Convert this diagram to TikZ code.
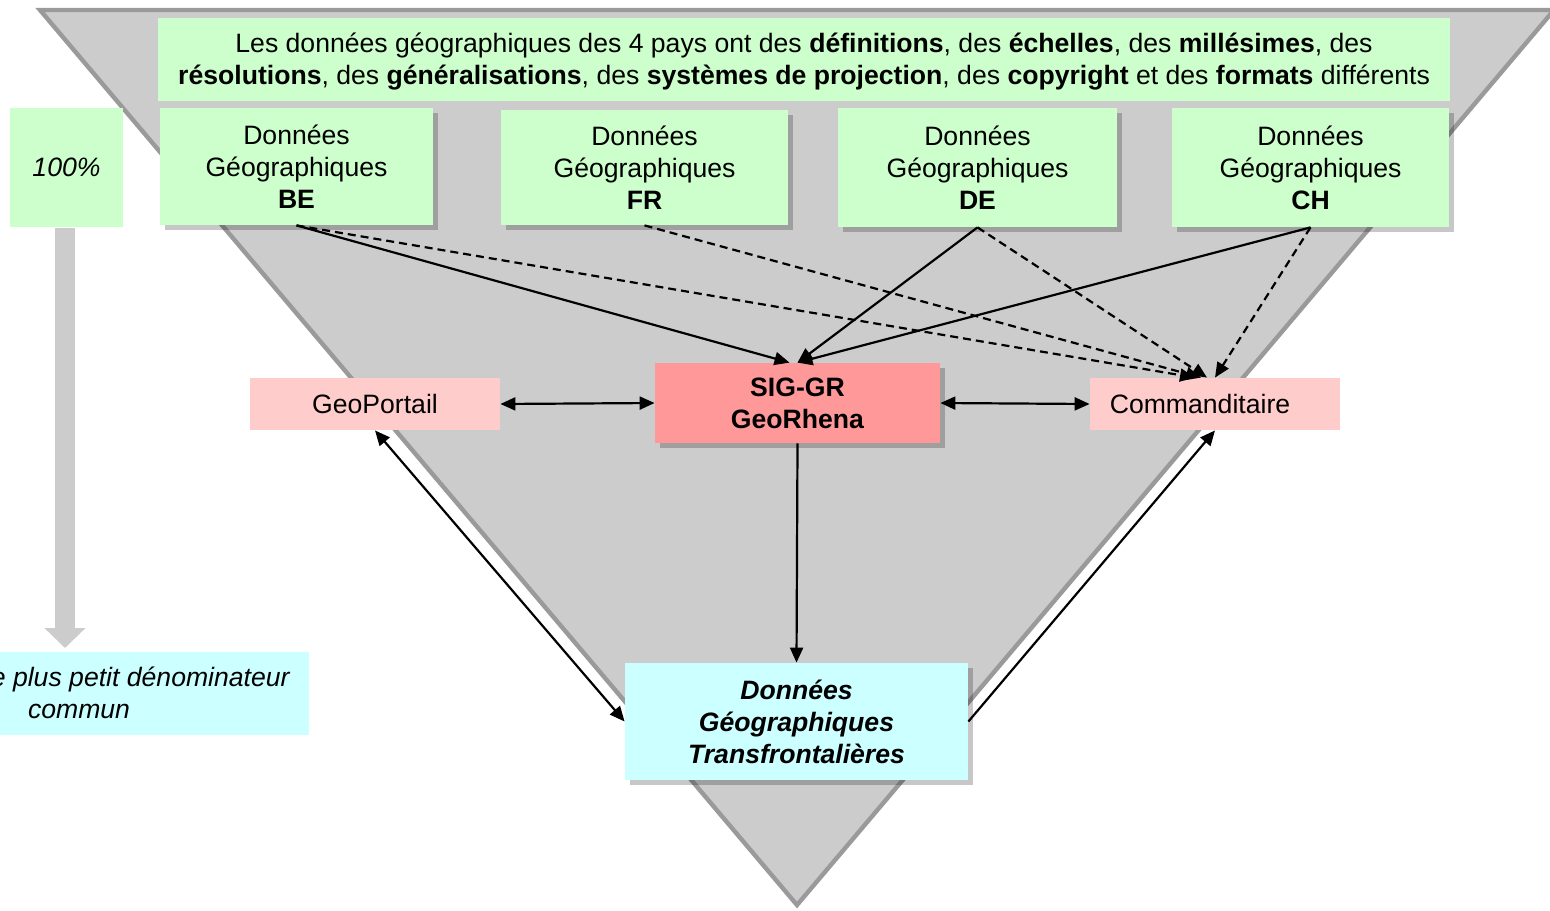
\documentclass[tikz,border=0pt]{standalone}
\usepackage{fontspec}
\setmainfont{Liberation Sans}
\usetikzlibrary{arrows.meta,shadows}
\definecolor{trifill}{HTML}{CCCCCC}
\definecolor{triedge}{HTML}{9A9A9A}
\definecolor{greenbox}{HTML}{CCFFCC}
\definecolor{pinkbox}{HTML}{FFCCCC}
\definecolor{redbox}{HTML}{FF9999}
\definecolor{cyanbox}{HTML}{CCFFFF}
\definecolor{bigarrow}{HTML}{CCCCCC}
\begin{document}
\begin{tikzpicture}[x=0.5pt,y=-0.5pt,
  every node/.style={font=\fontsize{13.3pt}{16pt}\selectfont, inner sep=0pt, align=center},
  shad/.style={drop shadow={shadow xshift=2.5pt, shadow yshift=-2.5pt, fill=black, opacity=0.22}},
  greenb/.style={fill=greenbox},
  pinkb/.style={fill=pinkbox},
  redb/.style={fill=redbox},
  cyanb/.style={fill=cyanbox},
  conn/.style={line width=1.1pt, -{Triangle[length=7.5pt,width=6.5pt]}},
  bconn/.style={line width=1.1pt, {Triangle[length=7.5pt,width=6.5pt]}-{Triangle[length=7.5pt,width=6.5pt]}},
  dconn/.style={line width=1.1pt, dash pattern=on 4pt off 2.5pt, -{Triangle[length=7.5pt,width=6.5pt]}},
]
\useasboundingbox (0,0) rectangle (1550,910);
\clip (0,0) rectangle (1550,910);
% funnel
\draw[fill=trifill, draw=triedge, line width=2.2pt, line join=miter] (40,10) -- (1554,10) -- (797,905) -- cycle;

% top text box
\node[greenb, minimum width=646pt, minimum height=41.5pt] (top) at (804,59.5)
 {\rule{0pt}{12pt}Les données géographiques des 4 pays ont des \textbf{définitions}, des \textbf{échelles}, des \textbf{millésimes}, des\\
  \textbf{résolutions}, des \textbf{généralisations}, des \textbf{systèmes de projection}, des \textbf{copyright} et des \textbf{formats} différents};

% country boxes
\node[greenb, shad, minimum width=136.5pt, minimum height=58.5pt] (be) at (296.5,166.5) {Données\\Géographiques\\\textbf{BE}};
\node[greenb, shad, minimum width=143.5pt, minimum height=57.5pt] (fr) at (644.5,167.5) {Données\\Géographiques\\\textbf{FR}};
\node[greenb, shad, minimum width=139.5pt, minimum height=59.5pt] (de) at (977.5,167.5) {Données\\Géographiques\\\textbf{DE}};
\node[greenb, shad, minimum width=138.5pt, minimum height=59.5pt] (ch) at (1310.5,167.5) {Données\\Géographiques\\\textbf{CH}};

% 100% box and big arrow
\node[greenb, minimum width=56.5pt, minimum height=59.5pt] (pct) at (66.5,167.5) {\itshape 100\%};
\fill[cyanbox] (-200,652) rectangle (309,735);
\node[anchor=east] (lpp1) at (290,679) {\itshape Le plus petit dénominateur};
\node (lpp2) at (79,711) {\itshape commun};
\coordinate (lpptop) at (65,648);
\draw[bigarrow, line width=10pt, -{Triangle[length=10pt,width=20pt]}] (65,228) -- (lpptop);

% middle boxes
\node[pinkb, minimum width=125pt, minimum height=26pt] (geo) at (375,404) {GeoPortail};
\node[redb, shad, minimum width=142.5pt, minimum height=40pt] (sig) at (797.5,403) {\textbf{SIG-GR}\\\textbf{GeoRhena}};
\node[pinkb, minimum width=125pt, minimum height=26pt] (com) at (1215,404) {Commanditaire\hspace*{15pt}};

% bottom box
\node[cyanb, shad, minimum width=171.5pt, minimum height=58.5pt] (out) at (796.5,721.5)
 {\bfseries\itshape Données\\\bfseries\itshape Géographiques\\\bfseries\itshape Transfrontalières};

% connectors
\draw[conn] (be.south) -- ([xshift=-4pt]sig.north);
\draw[conn] (de.south) -- (sig.north);
\draw[conn] (ch.south) -- (sig.north);
\draw[dconn] (be.south) -- ([xshift=-10pt]com.north);
\draw[dconn] (fr.south) -- ([xshift=-7pt]com.north);
\draw[dconn] (de.south) -- ([xshift=-4pt]com.north);
\draw[dconn] (ch.south) -- ([xshift=0pt]com.north);
\draw[bconn] (geo.east) -- (sig.west);
\draw[bconn] (sig.east) -- (com.west);
\draw[conn] (sig.south) -- (out.north);
\draw[bconn] (geo.south) -- (out.west);
\draw[conn] (out.east) -- (com.south);
\end{tikzpicture}
\end{document}
